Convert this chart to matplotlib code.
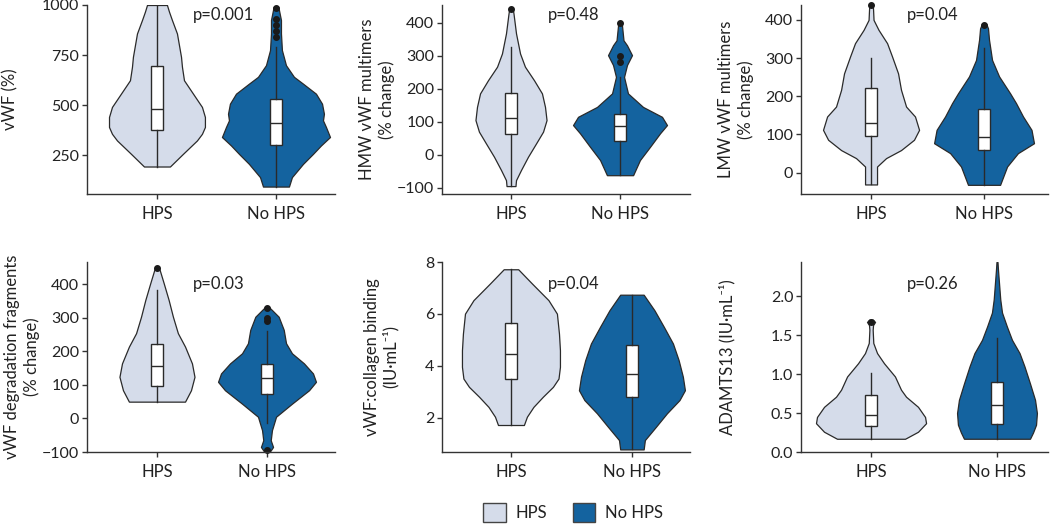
import matplotlib
matplotlib.use("Agg")
import matplotlib.pyplot as plt
from matplotlib.patches import Patch
from matplotlib.ticker import FormatStrFormatter

plt.rcParams['font.family'] = ['Lato', 'DejaVu Sans']

CATEGORIES = ["HPS", "No HPS"]
LIGHT = "#d5dcea"
DARK = "#14639f"
EDGE = "#2a2a2a"

# ---------------- Panel 1: vWF (%) ----------------
VWF_HPS_Y = [1000, 967, 925, 858, 800, 742, 692, 625, 558, 492, 442, 392, 358, 325, 258, 195]
VWF_HPS_W = [0.084, 0.101, 0.126, 0.168, 0.185, 0.202, 0.21, 0.227, 0.303, 0.378, 0.403, 0.403, 0.378, 0.336, 0.218, 0.109]
VWF_NO_Y = [990, 925, 858, 775, 700, 642, 608, 558, 508, 458, 425, 392, 342, 300, 258, 208, 142, 95]
VWF_NO_W = [0.02, 0.042, 0.042, 0.05, 0.084, 0.151, 0.227, 0.336, 0.387, 0.403, 0.395, 0.42, 0.454, 0.378, 0.311, 0.227, 0.134, 0.109]
VWF_HPS_BOX = [195, 375, 480, 695, 1000]
VWF_NO_BOX = [95, 303, 412, 533, 792]
VWF_HPS_FLIERS = []
VWF_NO_FLIERS = [842, 872, 900, 928, 983]
VWF_TICKS = [250, 500, 750, 1000]

# ---------------- Panel 2: HMW multimers ----------------
HMW_HPS_Y = [445, 428, 368, 307, 267, 226, 186, 145, 105, 70, 34, -6, -46, -77, -95]
HMW_HPS_W = [0.015, 0.023, 0.046, 0.083, 0.128, 0.211, 0.284, 0.312, 0.326, 0.294, 0.229, 0.156, 0.092, 0.046, 0.041]
HMW_NO_Y = [402, 347, 332, 302, 272, 236, 186, 145, 115, 90, 65, 24, -16, -62]
HMW_NO_W = [0.015, 0.032, 0.064, 0.11, 0.064, 0.037, 0.073, 0.211, 0.385, 0.431, 0.367, 0.275, 0.183, 0.12]
HMW_HPS_BOX = [-95, 63, 112, 188, 327]
HMW_NO_BOX = [-62, 41, 87, 125, 236]
HMW_HPS_FLIERS = [443]
HMW_NO_FLIERS = [400, 299, 280]
HMW_TICKS = [-100, 0, 100, 200, 300, 400]

# ---------------- Panel 3: LMW multimers ----------------
LMW_HPS_Y = [440, 426, 400, 374, 339, 304, 260, 217, 173, 147, 112, 86, 59, 38, 16, -31]
LMW_HPS_W = [0.015, 0.018, 0.022, 0.066, 0.142, 0.186, 0.239, 0.265, 0.31, 0.389, 0.425, 0.38, 0.265, 0.133, 0.053, 0.053]
LMW_NO_Y = [389, 378, 348, 295, 252, 208, 182, 147, 112, 77, 51, 16, -32]
LMW_NO_W = [0.02, 0.035, 0.044, 0.071, 0.133, 0.23, 0.283, 0.345, 0.42, 0.442, 0.30, 0.204, 0.142]
LMW_HPS_BOX = [-31, 97, 129, 221, 300]
LMW_NO_BOX = [-32, 59, 94, 167, 326]
LMW_HPS_FLIERS = [439]
LMW_NO_FLIERS = [387]
LMW_TICKS = [0, 100, 200, 300, 400]

# ---------------- Panel 4: degradation fragments ----------------
DEG_HPS_Y = [450, 443, 403, 353, 303, 254, 214, 164, 124, 84, 50]
DEG_HPS_W = [0.015, 0.024, 0.061, 0.106, 0.145, 0.19, 0.255, 0.318, 0.341, 0.309, 0.255]
DEG_NO_Y = [331, 323, 303, 264, 224, 194, 164, 134, 109, 84, 44, 5, -35, -65, -85, -97]
DEG_NO_W = [0.02, 0.045, 0.106, 0.152, 0.173, 0.227, 0.336, 0.418, 0.445, 0.382, 0.227, 0.082, 0.045, 0.034, 0.055, 0.03]
DEG_HPS_BOX = [50, 97, 157, 221, 383]
DEG_NO_BOX = [-15, 72, 121, 162, 259]
DEG_HPS_FLIERS = [448]
DEG_NO_FLIERS = [328, 298, 290, -95]
DEG_TICKS = [-100, 0, 100, 200, 300, 400]

# ---------------- Panel 5: collagen binding ----------------
CB_HPS_Y = [7.72, 7.17, 6.53, 6.01, 5.24, 4.6, 3.96, 3.51, 3.19, 2.81, 2.42, 2.04, 1.72]
CB_HPS_W = [0.06, 0.174, 0.31, 0.38, 0.397, 0.405, 0.405, 0.393, 0.347, 0.264, 0.186, 0.132, 0.107]
CB_NO_Y = [6.74, 6.14, 5.5, 4.86, 4.22, 3.58, 3.06, 2.68, 2.17, 1.65, 1.14, 0.78]
CB_NO_W = [0.097, 0.186, 0.264, 0.339, 0.386, 0.421, 0.438, 0.393, 0.289, 0.198, 0.107, 0.097]
CB_HPS_BOX = [1.72, 3.51, 4.47, 5.65, 7.72]
CB_NO_BOX = [0.78, 2.81, 3.67, 4.82, 6.74]
CB_HPS_FLIERS = []
CB_NO_FLIERS = []
CB_TICKS = [2, 4, 6, 8]

# ---------------- Panel 6: ADAMTS13 ----------------
AD_HPS_Y = [1.70, 1.67, 1.63, 1.57, 1.40, 1.27, 1.14, 0.97, 0.80, 0.71, 0.58, 0.45, 0.37, 0.26, 0.17]
AD_HPS_W = [0.015, 0.032, 0.016, 0.013, 0.018, 0.048, 0.103, 0.19, 0.238, 0.278, 0.373, 0.429, 0.437, 0.373, 0.27]
AD_NO_Y = [2.44, 2.34, 1.96, 1.79, 1.61, 1.44, 1.27, 1.10, 0.88, 0.67, 0.50, 0.35, 0.25, 0.17]
AD_NO_W = [0.004, 0.008, 0.026, 0.04, 0.079, 0.119, 0.179, 0.218, 0.262, 0.302, 0.317, 0.31, 0.286, 0.262]
AD_HPS_BOX = [0.17, 0.34, 0.48, 0.73, 1.02]
AD_NO_BOX = [0.17, 0.36, 0.61, 0.90, 1.46]
AD_HPS_FLIERS = [1.67]
AD_NO_FLIERS = []
AD_TICKS = [0.0, 0.5, 1.0, 1.5, 2.0]

P_VALUES = ["p=0.001", "p=0.48", "p=0.04", "p=0.03", "p=0.04", "p=0.26"]
Y_LABELS = ["vWF (%)",
            "HMW vWF multimers\n(% change)",
            "LMW vWF multimers\n(% change)",
            "vWF degradation fragments\n(% change)",
            "vWF:collagen binding\n(IU·mL⁻¹)",
            "ADAMTS13 (IU·mL⁻¹)"]

PANELS = [
    (VWF_HPS_Y, VWF_HPS_W, VWF_NO_Y, VWF_NO_W, VWF_HPS_BOX, VWF_NO_BOX, VWF_HPS_FLIERS, VWF_NO_FLIERS, VWF_TICKS),
    (HMW_HPS_Y, HMW_HPS_W, HMW_NO_Y, HMW_NO_W, HMW_HPS_BOX, HMW_NO_BOX, HMW_HPS_FLIERS, HMW_NO_FLIERS, HMW_TICKS),
    (LMW_HPS_Y, LMW_HPS_W, LMW_NO_Y, LMW_NO_W, LMW_HPS_BOX, LMW_NO_BOX, LMW_HPS_FLIERS, LMW_NO_FLIERS, LMW_TICKS),
    (DEG_HPS_Y, DEG_HPS_W, DEG_NO_Y, DEG_NO_W, DEG_HPS_BOX, DEG_NO_BOX, DEG_HPS_FLIERS, DEG_NO_FLIERS, DEG_TICKS),
    (CB_HPS_Y, CB_HPS_W, CB_NO_Y, CB_NO_W, CB_HPS_BOX, CB_NO_BOX, CB_HPS_FLIERS, CB_NO_FLIERS, CB_TICKS),
    (AD_HPS_Y, AD_HPS_W, AD_NO_Y, AD_NO_W, AD_HPS_BOX, AD_NO_BOX, AD_HPS_FLIERS, AD_NO_FLIERS, AD_TICKS),
]

# layout: axes rect in pixels (left, top, right, bottom), xlim, ylim, box width, ylabel x (axes frac)
W, H = 1050, 524
LAYOUT = [
    ((87, 5, 335, 194), (-0.588, 1.496), (58, 1000), 0.10, -0.31),
    ((442, 5, 690, 194), (-0.633, 1.642), (-119, 454), 0.11, -0.262),
    ((801, 5, 1048, 194), (-0.62, 1.566), (-56, 439), 0.106, -0.263),
    ((87, 262, 335, 452), (-0.636, 1.618), (-100, 466), 0.109, -0.262),
    ((442, 262, 690, 452), (-0.57, 1.48), (0.68, 8), 0.10, -0.244),
    ((801, 262, 1048, 452), (-0.556, 1.405), (0, 2.44), 0.10, -0.30),
]

fig = plt.figure(figsize=(W / 100, H / 100), dpi=100)
TXT = "#222222"

for i, (panel, lay) in enumerate(zip(PANELS, LAYOUT)):
    hy, hw, ny, nw, hbox, nbox, hfl, nfl, ticks = panel
    (l, t, r, b), xlim, ylim, bw, ylx = lay
    ax = fig.add_axes([l / W, 1 - b / H, (r - l) / W, (b - t) / H])
    for pos, ys, ws, col in ((0, hy, hw, LIGHT), (1, ny, nw, DARK)):
        ax.fill_betweenx(ys, [pos - w for w in ws], [pos + w for w in ws],
                         facecolor=col, edgecolor=EDGE, linewidth=0.9, zorder=2)
    stats = []
    for box, fl in ((hbox, hfl), (nbox, nfl)):
        stats.append(dict(whislo=box[0], q1=box[1], med=box[2], q3=box[3], whishi=box[4], fliers=fl))
    art = ax.bxp(stats, positions=[0, 1], widths=bw, showcaps=False, patch_artist=True,
                 manage_ticks=False,
                 boxprops=dict(facecolor="white", edgecolor=EDGE, linewidth=1.0),
                 whiskerprops=dict(color=EDGE, linewidth=1.0),
                 medianprops=dict(color=EDGE, linewidth=1.0),
                 flierprops=dict(marker="o", markersize=4, markerfacecolor="#1a1a1a",
                                 markeredgecolor="#1a1a1a"))
    for f in art["fliers"]:
        f.set_clip_on(False)
    ax.set_xlim(*xlim)
    ax.set_ylim(*ylim)
    ax.set_xticks([0, 1], CATEGORIES)
    ax.set_yticks(ticks)
    if i == 5:
        ax.yaxis.set_major_formatter(FormatStrFormatter("%.1f"))
    for s in ("top", "right"):
        ax.spines[s].set_visible(False)
    for s in ("left", "bottom"):
        ax.spines[s].set_color("#333333")
        ax.spines[s].set_linewidth(1.0)
    ax.tick_params(axis="both", direction="out", length=3.5, width=1.0, color="#333333",
                   labelcolor=TXT)
    ax.tick_params(axis="y", labelsize=11.5, pad=2)
    ax.tick_params(axis="x", labelsize=12, pad=5)
    ax.text(ylx, 0.5, Y_LABELS[i], rotation=90, ha="center", va="center",
            multialignment="center", transform=ax.transAxes, fontsize=12,
            color=TXT, linespacing=1.2)
    py = 0.947 if i < 3 else 0.884
    ax.text(0.428, py, P_VALUES[i], ha="left", va="center", transform=ax.transAxes,
            fontsize=12, color=TXT)

handles = [Patch(facecolor=LIGHT, edgecolor="#444444", linewidth=1.0),
           Patch(facecolor=DARK, edgecolor="#444444", linewidth=1.0)]
fig.legend(handles, CATEGORIES, ncol=2, loc="center", bbox_to_anchor=(0.546, 0.022),
           frameon=False, fontsize=12, handlelength=1.35, handleheight=1.3,
           handletextpad=0.6, columnspacing=1.5, labelcolor=TXT)

fig.savefig("out.png", dpi=100)
